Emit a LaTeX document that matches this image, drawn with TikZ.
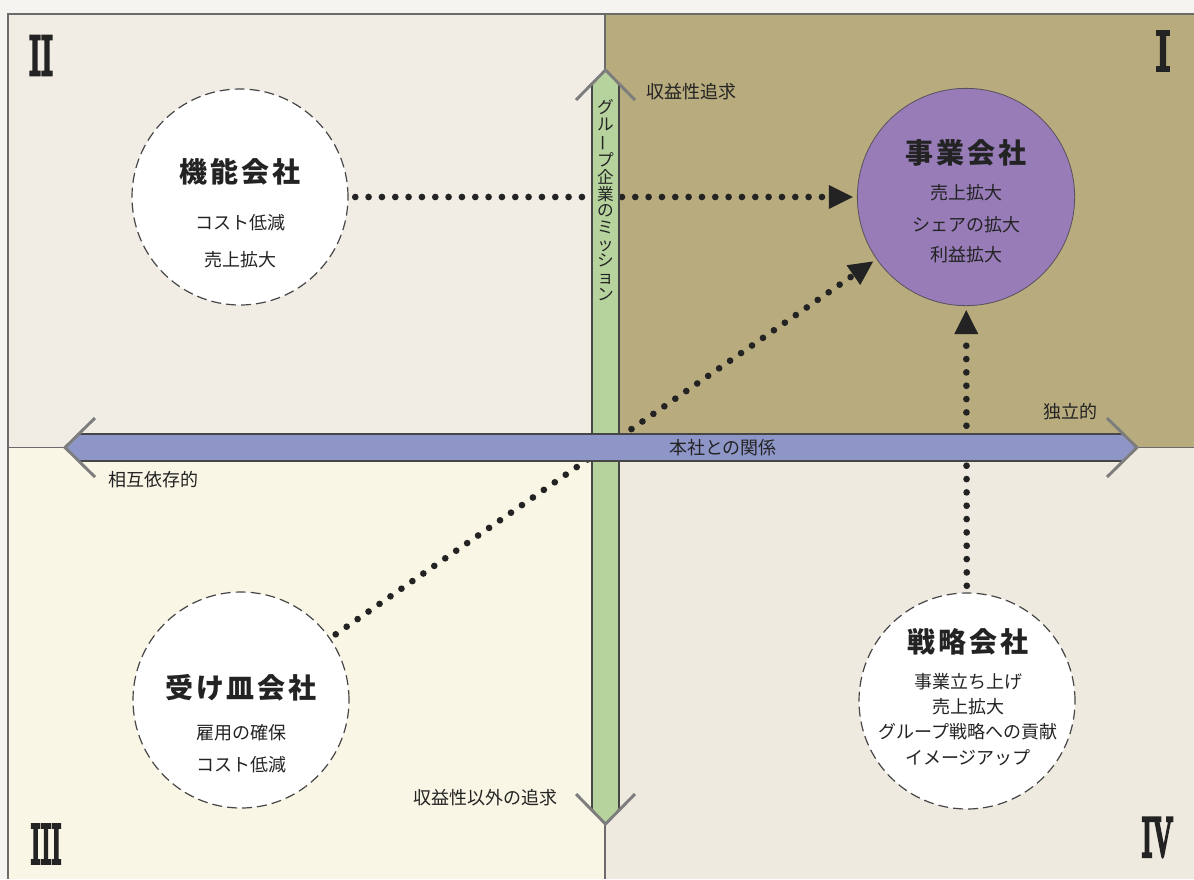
\documentclass[tikz,border=0pt]{standalone}
\usepackage{fontspec}
\newfontfamily\jpfont{Noto Sans CJK JP}
\newfontfamily\jptitlefont[LetterSpace=10]{Noto Sans CJK JP}
\newfontfamily\romanheavy[FakeBold=6]{Latin Modern Roman}
\usetikzlibrary{arrows.meta}

\definecolor{quadI}{RGB}{184,171,125}
\definecolor{quadII}{RGB}{241,237,228}
\definecolor{quadIII}{RGB}{249,246,229}
\definecolor{quadIV}{RGB}{239,234,223}
\definecolor{paper}{RGB}{246,244,240}
\definecolor{bandgreen}{RGB}{182,211,158}
\definecolor{bandblue}{RGB}{142,150,200}
\definecolor{corppurple}{RGB}{151,124,184}
\definecolor{inkdark}{RGB}{35,35,35}
\definecolor{edgegray}{RGB}{70,70,70}
\definecolor{chevgray}{RGB}{125,125,125}

\tikzset{every picture/.style={line width=0.75pt}}
\tikzset{
  company/.style={circle, draw=edgegray, fill=white, dash pattern=on 7.5pt off 3.75pt, line width=0.9pt, minimum size=162pt, inner sep=0pt},
  corecompany/.style={circle, draw=edgegray!80!corppurple, fill=corppurple, line width=0.6pt, minimum size=163pt, inner sep=0pt},
  corptitle/.style={inner sep=0.75pt, text=inkdark, font=\jptitlefont\bfseries\fontsize{21}{24}\selectfont},
  corptext/.style={inner sep=0.75pt, text=inkdark, font=\jpfont\fontsize{13.5}{16}\selectfont},
  axislabel/.style={inner sep=0.75pt, text=inkdark, font=\jpfont\fontsize{13.5}{16}\selectfont},
  romannum/.style={inner sep=0pt, text=inkdark, font=\romanheavy\bfseries\fontsize{42}{42}\selectfont},
  dotarrow/.style={draw=inkdark, line width=5pt, line cap=round, dash pattern=on 0pt off 10pt, shorten <=5pt, shorten >=3pt, -{Triangle[length=18pt,width=18pt,line width=0pt]}},
  bandedge/.style={draw=edgegray, line width=1.1pt},
  chevron/.style={draw=chevgray, line width=2.2pt, line join=miter},
  divider/.style={draw=edgegray!80, line width=0.9pt}
}

\begin{document}
\begin{tikzpicture}[x=0.75pt,y=0.75pt,yscale=-1,xscale=1]
\useasboundingbox (0,0) rectangle (1194,879);
\clip (0,0) rectangle (1194,879);

%Shape: Rectangle [quadrants]
\fill [paper] (0,0) rectangle (1194,879);
\fill [quadII] (8,14) rectangle (605,447);
\fill [quadI] (605,14) rectangle (1194,447);
\fill [quadIII] (8,447) rectangle (605,879);
\fill [quadIV] (605,447) rectangle (1194,879);
%Straight Lines [frame and dividers]
\draw [divider] (8,879) -- (8,14) -- (1194,14) ;
\draw [divider] (605,14) -- (605,879) ;
\draw [divider] (8,447.5) -- (1194,447.5) ;

%Shape: Circle [companies]
\draw (240,197) node [company] (kino) {};
\draw (241,700) node [company] (ukezara) {};
\draw (967,701) node [company] (senryaku) {};
\draw (966,197) node [corecompany] (jigyo) {};

%Dotted Lines [missions]
\draw [dotarrow] (kino) -- (jigyo) ;
\draw [dotarrow] (ukezara) -- (jigyo) ;
\draw [dotarrow] (senryaku) -- (jigyo) ;

%Shape: Arrow [vertical axis]
\fill [bandgreen] (592,84) -- (605.5,70) -- (619,84) -- (619,810) -- (605.5,824) -- (592,810) -- cycle ;
\draw [bandedge] (592,84) -- (592,810) ;
\draw [bandedge] (619,84) -- (619,810) ;
\draw [chevron] (576,100) -- (605.5,70) -- (635,100) ;
\draw [chevron] (576,794) -- (605.5,824) -- (635,794) ;
%Shape: Arrow [horizontal axis]
\fill [bandblue] (79,434) -- (65,447.5) -- (79,461) -- (1123,461) -- (1137,447.5) -- (1123,434) -- cycle ;
\draw [bandedge] (79,434) -- (1123,434) ;
\draw [bandedge] (79,461) -- (1123,461) ;
\draw [chevron] (95,418) -- (65,447.5) -- (95,477) ;
\draw [chevron] (1107,418) -- (1137,447.5) -- (1107,477) ;

% Text Node
\draw (605.5,200) node [inner sep=0pt, align=center, text=inkdark, font=\jpfont\fontsize{12.5}{12.5}\selectfont] (mission) {グ\\ル\\\rotatebox[origin=c]{90}{ー}\\プ\\企\\業\\の\\ミ\\ッ\\シ\\ョ\\ン};
% Text Node
\draw (645,92) node [axislabel, anchor=west] (profit) {収益性追求};
% Text Node
\draw (412,798) node [axislabel, anchor=west] (nonprofit) {収益性以外の追求};
% Text Node
\draw (107,480) node [axislabel, anchor=west] (mutual) {相互依存的};
% Text Node
\draw (1042,412) node [axislabel, anchor=west] (independent) {独立的};
% Text Node
\draw (723,448) node [axislabel] (relation) {本社との関係};

% Text Node
\draw (240,172) node [corptitle] (kinoT) {機能会社};
\draw (240,223) node [corptext] (kinoA) {コスト低減};
\draw (240,260) node [corptext] (kinoB) {売上拡大};
% Text Node
\draw (966,153) node [corptitle] (jigyoT) {事業会社};
\draw (966,193) node [corptext] (jigyoA) {売上拡大};
\draw (966,225) node [corptext] (jigyoB) {シェアの拡大};
\draw (966,255) node [corptext] (jigyoC) {利益拡大};
% Text Node
\draw (241,688) node [corptitle] (ukezaraT) {受け皿会社};
\draw (241,733) node [corptext] (ukezaraA) {雇用の確保};
\draw (241,765) node [corptext] (ukezaraB) {コスト低減};
% Text Node
\draw (968,642) node [corptitle] (senryakuT) {戦略会社};
\draw (968,682) node [corptext] (senryakuA) {事業立ち上げ};
\draw (968,707) node [corptext] (senryakuB) {売上拡大};
\draw (968,732) node [corptext] (senryakuC) {グループ戦略への貢献};
\draw (968,758) node [corptext] (senryakuD) {イメージアップ};

% Text Node
\draw (1163,51) node [romannum] (qI) {\scalebox{0.6}[1]{I}};
\draw (41,55.5) node [romannum] (qII) {\scalebox{0.48}[1]{II}};
\draw (46,844) node [romannum] (qIII) {\scalebox{0.41}[1]{III}};
\draw (1157.5,837.5) node [romannum] (qIV) {\scalebox{0.44}[1]{IV}};

\end{tikzpicture}
\end{document}
